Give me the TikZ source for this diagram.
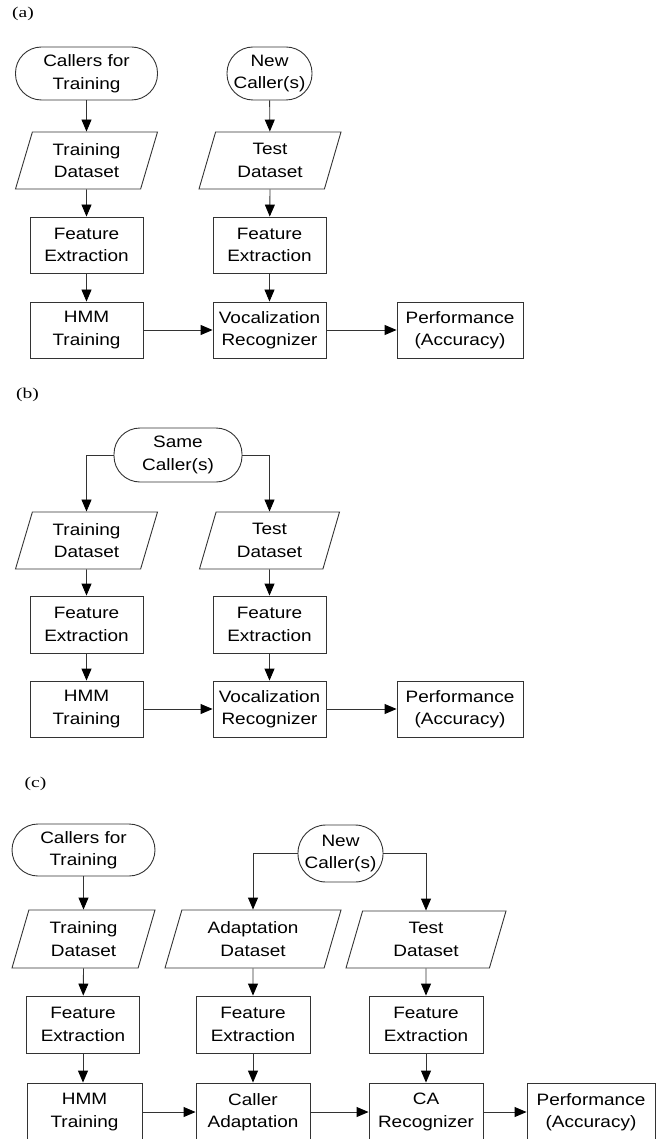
\documentclass[tikz,border=0pt]{standalone}
\usepackage{fontspec}
\setmainfont{Liberation Serif}
\newfontfamily\boxfont[FakeStretch=1.15]{Liberation Sans}
\newfontfamily\labfont[FakeStretch=1.3]{Liberation Serif}
\usetikzlibrary{arrows.meta,shapes.geometric}
\definecolor{linec}{gray}{0.2}
\begin{document}
\begin{tikzpicture}[x=1pt,y=-1pt,
  every node/.style={font=\boxfont\fontsize{16.5}{22.5}\selectfont, align=center, inner sep=0pt},
  proc/.style={draw=linec, line width=0.9pt, rectangle, minimum width=113pt, minimum height=56pt},
  term/.style={draw=linec, line width=0.9pt, rectangle, rounded corners=26pt, minimum height=53pt},
  data/.style={draw=linec, line width=0.9pt, trapezium, trapezium left angle=64, trapezium right angle=116, trapezium stretches body, minimum height=57pt, minimum width=142pt},
  arr/.style={draw=linec, line width=0.9pt, -{Triangle[length=12pt,width=10pt,color=black]}},
  lab/.style={font=\labfont\fontsize{15}{17}\selectfont}
]
\useasboundingbox (0,0) rectangle (659,1139);

% ---------- (a)
\node[lab] (la) at (23,14) {(a)};
\node[term, minimum width=142pt] (a1) at (86.5,73.5) {Callers for\\Training};
\node[term, minimum width=85pt] (a2) at (269.5,73.5) {New\\Caller(s)};
\node[data] (a3) at (86.5,160.5) {Training\\Dataset};
\node[data] (a4) at (270,160.5) {Test\\Dataset};
\node[proc] (a5) at (86.5,245) {Feature\\Extraction};
\node[proc] (a6) at (269.5,245) {Feature\\Extraction};
\node[proc] (a7) at (86.5,330) {HMM\\Training};
\node[proc] (a8) at (269.5,330) {Vocalization\\Recognizer};
\node[proc, minimum width=126pt] (a9) at (460,330) {Performance\\(Accuracy)};
\draw[arr] (a1) -- (a3);
\draw[arr] (a2) -- (a4);
\draw[arr] (a3) -- (a5);
\draw[arr] (a4.south) -- (a6);
\draw[arr] (a5) -- (a7);
\draw[arr] (a6) -- (a8);
\draw[arr] (a7) -- (a8);
\draw[arr] (a8) -- (a9);

% ---------- (b)
\node[lab] (lb) at (27.5,394.5) {(b)};
\node[term, minimum width=128pt, minimum height=54pt] (b1) at (178,455) {Same\\Caller(s)};
\node[data] (b3) at (86.5,540.5) {Training\\Dataset};
\node[data, minimum width=140pt] (b4) at (269.5,540.5) {Test\\Dataset};
\node[proc, minimum height=57pt] (b5) at (86.5,624.5) {Feature\\Extraction};
\node[proc, minimum height=57pt] (b6) at (269.5,624.5) {Feature\\Extraction};
\node[proc] (b7) at (86.5,709) {HMM\\Training};
\node[proc] (b8) at (269.5,709) {Vocalization\\Recognizer};
\node[proc, minimum width=126pt] (b9) at (460,709) {Performance\\(Accuracy)};
\draw[arr] (b1.west) -| (b3.north);
\draw[arr] (b1.east) -| (b4.north);
\draw[arr] (b3) -- (b5);
\draw[arr] (b4.south) -- (b6);
\draw[arr] (b5) -- (b7);
\draw[arr] (b6) -- (b8);
\draw[arr] (b7) -- (b8);
\draw[arr] (b8) -- (b9);

% ---------- (c)
\node[lab] (lc) at (35.5,783.5) {(c)};
\node[term, minimum width=143pt, minimum height=52pt] (c1) at (83.5,850) {Callers for\\Training};
\node[term, minimum width=85pt, minimum height=57pt, rounded corners=28pt] (c2) at (340.5,853.5) {New\\Caller(s)};
\node[data, minimum width=143pt, minimum height=58pt] (c3) at (83.5,939) {Training\\Dataset};
\node[data, minimum width=176pt, minimum height=58pt] (c4) at (253,939) {Adaptation\\Dataset};
\node[data, minimum width=160pt, minimum height=57pt] (c5) at (426,939.5) {Test\\Dataset};
\node[proc, minimum height=57pt] (c6) at (83,1024.5) {Feature\\Extraction};
\node[proc, minimum width=114pt, minimum height=57pt] (c7) at (253,1024.5) {Feature\\Extraction};
\node[proc, minimum width=114pt, minimum height=57pt] (c8) at (426,1024.5) {Feature\\Extraction};
\node[proc, minimum width=115pt, minimum height=58pt] (c9) at (84.5,1112) {HMM\\Training};
\node[proc, minimum width=114pt, minimum height=58pt] (c10) at (253,1112) {Caller\\Adaptation};
\node[proc, minimum width=114pt, minimum height=58pt] (c11) at (426,1112) {CA\\Recognizer};
\node[proc, minimum width=128pt, minimum height=58pt] (c12) at (591,1112) {Performance\\(Accuracy)};
\draw[arr] (c1) -- (c3);
\draw[arr] (c2.west) -| (c4.north);
\draw[arr] (c2.east) -| (c5.north);
\draw[arr] (c3.south) -- (c6);
\draw[arr] (c4.south) -- (c7);
\draw[arr] (c5.south) -- (c8);
\draw[arr] (c6) -- (c6 |- c9.north);
\draw[arr] (c7) -- (c10);
\draw[arr] (c8) -- (c11);
\draw[arr] (c9) -- (c10);
\draw[arr] (c10) -- (c11);
\draw[arr] (c11) -- (c12);
\end{tikzpicture}
\end{document}
